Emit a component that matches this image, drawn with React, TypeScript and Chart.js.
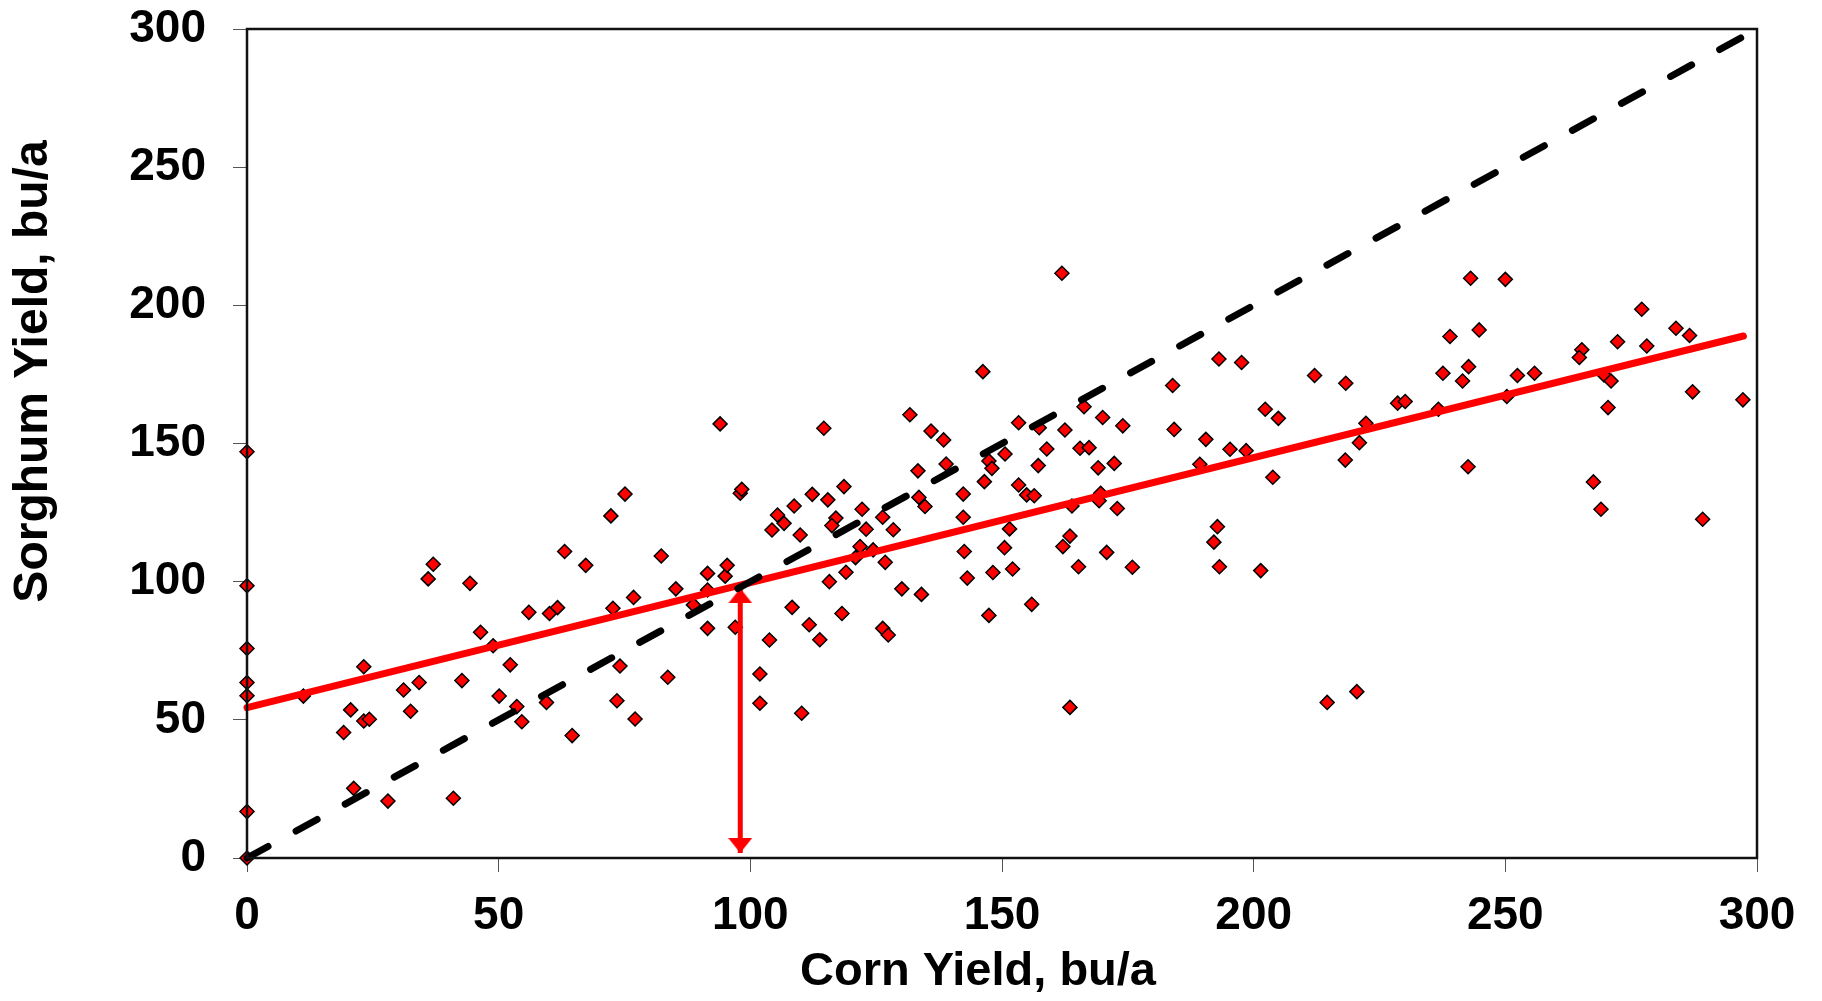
import { useEffect, useRef } from 'react';
import { Chart, registerables } from 'chart.js';

Chart.register(...registerables);

// ---- Data ----
const cornYield: number[] = [
  0, 0, 0, 0, 0, 0, 0,
  11.2, 23.2, 20.6, 19.2, 23.2, 24.3, 21.2, 28, 36, 37, 31.1, 34.2, 32.5, 41,
  44.3, 42.7, 46.4, 48.9, 52.3, 50.1, 53.6, 54.6, 64.6, 59.5, 56, 60.1, 61.7, 63.1, 67.3, 72.3, 75.1, 72.7, 74.1, 73.5, 77.1, 76.8,
  82.3, 83.6, 85.2, 88.7, 91.5, 91.5, 91.5, 94, 95, 95.4, 97, 98, 98.3, 101.9, 101.9, 103.8, 104.3, 105.4, 106.7, 108.7, 109.9, 108.3, 111.7, 110.2, 113.8, 112.3, 114.6, 115.4, 117, 116.2, 118.6, 115.7, 119, 118.2,
  121.8, 120.9, 124.4, 122.2, 123, 126.8, 126.3, 127.4, 126.3, 128.4, 130.1, 131.7, 134, 133.3, 133.5, 134.7, 135.9, 138.4, 138.9, 142.3, 142.3, 142.5, 143.1, 146.5, 147.4, 148, 150.6, 151.5, 150.5, 148.2, 152.1, 147.4, 153.3, 153.3, 146.2,
  161.9, 157.4, 162.5, 166.3, 170, 174, 158.9, 165.5, 167.3, 157.2, 169.1, 172.3, 154.9, 156.4, 163.9, 169.6, 169.3, 172.9, 163.5, 162.1, 170.8, 165.2, 175.9, 155.9, 163.5,
  183.9, 193.1, 197.6, 184.2, 190.5, 195.3, 198.5, 189.3, 202.3, 204.9, 203.8, 212.1, 218.3, 222.3, 221, 218.2, 228.6, 230.1, 192.8, 192.1, 193.2, 201.4, 214.6, 220.5,
  243.1, 250, 239, 244.8, 277.1, 283.9, 286.6, 272.3, 278.1, 265.2, 264.7, 237.6, 242.7, 241.5, 252.4, 255.8, 269.6, 271, 270.4, 287.2, 297.2, 250.3, 236.7, 242.6, 267.5, 269, 289.2,
];

const sorghumYield: number[] = [
  147, 98.5, 75.8, 63.5, 58.7, 16.8, 0,
  58.6, 69.2, 53.6, 45.4, 49.6, 50.2, 25.2, 20.6, 101, 106.3, 60.8, 63.5, 53.1, 21.6,
  99.4, 64.2, 81.7, 76.8, 69.9, 58.6, 54.8, 49.3, 44.3, 56.3, 88.9, 88.5, 90.6, 110.9, 105.9, 123.8, 131.7, 90.4, 69.5, 56.9, 50.3, 94.3,
  109.3, 65.4, 97.4, 91.6, 103, 97, 83.1, 157.1, 102, 105.9, 83.5, 132, 133.4, 66.6, 56, 78.9, 118.7, 124.1, 121.1, 127.4, 116.9, 90.7, 84.4, 52.4, 79, 131.6, 155.5, 129.6, 123, 120.3, 134.4, 100, 103.4, 88.5,
  112.7, 108.7, 111.5, 126.2, 119, 107, 83.1, 80.7, 123.3, 118.8, 97.4, 160.4, 95.4, 140.1, 130.5, 127.2, 154.5, 151.3, 142.6, 131.7, 123.3, 110.9, 101.3, 136.2, 143.7, 141, 146.2, 119.1, 112.3, 103.3, 104.6, 87.8, 157.5, 135, 176,
  211.6, 155.7, 154.9, 163.3, 159.4, 156.4, 148, 148.3, 148.5, 142, 141.2, 142.8, 131.4, 131.1, 127.4, 132, 129.3, 126.5, 116.5, 112.7, 110.6, 105.4, 105.2, 91.8, 54.5,
  171, 180.6, 179.3, 155.1, 151.5, 147.9, 147.4, 142.5, 162.4, 159.1, 137.8, 174.6, 171.8, 157.3, 150.3, 144, 164.6, 165.2, 119.9, 114.3, 105.4, 104, 56.3, 60.2,
  209.8, 209.4, 188.7, 191.1, 198.6, 191.7, 189.1, 186.8, 185.3, 183.9, 181.1, 175.4, 177.8, 172.6, 174.6, 175.4, 174.8, 172.6, 163, 168.7, 165.8, 167, 162.4, 141.6, 136.1, 126.2, 122.6,
];

// Regression line end points
const trendCorn = [0, 297.3];
const trendSorghum = [54.4, 188.9];

// 1:1 line end points
const oneToOneCorn = [0, 297.5];
const oneToOneSorghum = [0, 297.5];

// Arrow at corn = 98
const arrowCorn = [98, 98];
const arrowSorghum = [1.8, 97.6];

const axisTicks = [0, 50, 100, 150, 200, 250, 300];
const xTitle = 'Corn Yield, bu/a';
const yTitle = 'Sorghum Yield, bu/a';

const FONT = '"Liberation Sans", Arial, Helvetica, sans-serif';

export default function App() {
  const ref = useRef<HTMLCanvasElement>(null);

  useEffect(() => {
    if (!ref.current) return;

    // arrow head image: tip at image centre, base at bottom
    const head = document.createElement('canvas');
    head.width = 24;
    head.height = 30;
    const hc = head.getContext('2d')!;
    hc.fillStyle = '#ff0000';
    hc.beginPath();
    hc.moveTo(12, 15);
    hc.lineTo(24, 30);
    hc.lineTo(0, 30);
    hc.closePath();
    hc.fill();

    const toXY = (xs: number[], ys: number[]) => xs.map((x, i) => ({ x, y: ys[i] }));

    const boxPlugin = {
      id: 'plotBox',
      afterDatasetsDraw(chart: any) {
        const { ctx, chartArea } = chart;
        ctx.save();
        ctx.strokeStyle = '#111';
        ctx.lineWidth = 2.5;
        ctx.strokeRect(chartArea.left, chartArea.top, chartArea.right - chartArea.left, chartArea.bottom - chartArea.top);
        ctx.restore();
      },
    };

    const titlePlugin = {
      id: 'axisTitles',
      afterDraw(chart: any) {
        const { ctx, chartArea } = chart;
        ctx.save();
        ctx.fillStyle = '#000';
        ctx.textAlign = 'center';
        ctx.textBaseline = 'alphabetic';
        ctx.font = `bold 47px ${FONT}`;
        const cx = (chartArea.left + chartArea.right) / 2 - 24;
        ctx.fillText(xTitle, cx, chartArea.bottom + 127);
        const cy = (chartArea.top + chartArea.bottom) / 2 - 72;
        ctx.translate(46.5, cy);
        ctx.rotate(-Math.PI / 2);
        ctx.font = `bold 48px ${FONT}`;
        ctx.fillText(yTitle, 0, 0);
        ctx.restore();
      },
    };

    const tickFont = { family: FONT, size: 46, weight: 'bold' as const };

    const chart = new Chart(ref.current, {
      type: 'scatter',
      data: {
        datasets: [
          {
            label: '1:1',
            data: toXY(oneToOneCorn, oneToOneSorghum),
            showLine: true,
            borderColor: '#000',
            borderWidth: 7,
            borderDash: [24, 32],
            borderCapStyle: 'round',
            pointRadius: 0,
            clip: false as any,
          },
          {
            label: 'arrow',
            data: toXY(arrowCorn, arrowSorghum),
            showLine: true,
            borderColor: '#ff0000',
            borderWidth: 5,
            pointStyle: head as any,
            pointRadius: 6,
            pointRotation: [180, 0],
            clip: false as any,
          },
          {
            label: 'trend',
            data: toXY(trendCorn, trendSorghum),
            showLine: true,
            borderColor: '#ff0000',
            borderWidth: 7,
            borderCapStyle: 'round',
            pointRadius: 0,
            clip: false as any,
          },
          {
            label: 'fields',
            data: toXY(cornYield, sorghumYield),
            showLine: false,
            pointStyle: 'rectRot',
            pointRadius: 7,
            pointBackgroundColor: '#ff0000',
            pointBorderColor: '#000',
            pointBorderWidth: 1.5,
            clip: false as any,
          },
        ],
      },
      options: {
        responsive: false,
        animation: false,
        events: [],
        layout: { padding: { left: 0, right: 65, top: 29, bottom: 0 } },
        plugins: {
          legend: { display: false },
          tooltip: { enabled: false },
        },
        scales: {
          x: {
            type: 'linear',
            position: 'bottom',
            min: 0,
            max: 300,
            afterBuildTicks: (s: any) => {
              s.ticks = axisTicks.map((v) => ({ value: v }));
            },
            afterFit: (s: any) => {
              s.height = 143;
              s.paddingLeft = 0;
              s.paddingRight = 0;
            },
            border: { display: false },
            grid: { drawOnChartArea: false, drawTicks: true, tickLength: 14, color: '#555', lineWidth: 1 },
            ticks: { font: tickFont, color: '#000', padding: 17, maxRotation: 0, autoSkip: false },
          },
          y: {
            type: 'linear',
            position: 'left',
            min: 0,
            max: 300,
            afterBuildTicks: (s: any) => {
              s.ticks = axisTicks.map((v) => ({ value: v }));
            },
            afterFit: (s: any) => {
              s.width = 247;
              s.paddingTop = 0;
              s.paddingBottom = 0;
            },
            border: { display: false },
            grid: { drawOnChartArea: false, drawTicks: true, tickLength: 14, color: '#555', lineWidth: 1 },
            ticks: { font: tickFont, color: '#000', padding: 27, autoSkip: false },
          },
        },
      },
      plugins: [boxPlugin, titlePlugin],
    } as any);

    return () => chart.destroy();
  }, []);

  return (
    <div style={{ position: 'fixed', left: 0, top: 0, width: 1822, height: 1001, background: '#fff' }}>
      <canvas ref={ref} width={1822} height={1001} style={{ display: 'block' }} />
    </div>
  );
}
